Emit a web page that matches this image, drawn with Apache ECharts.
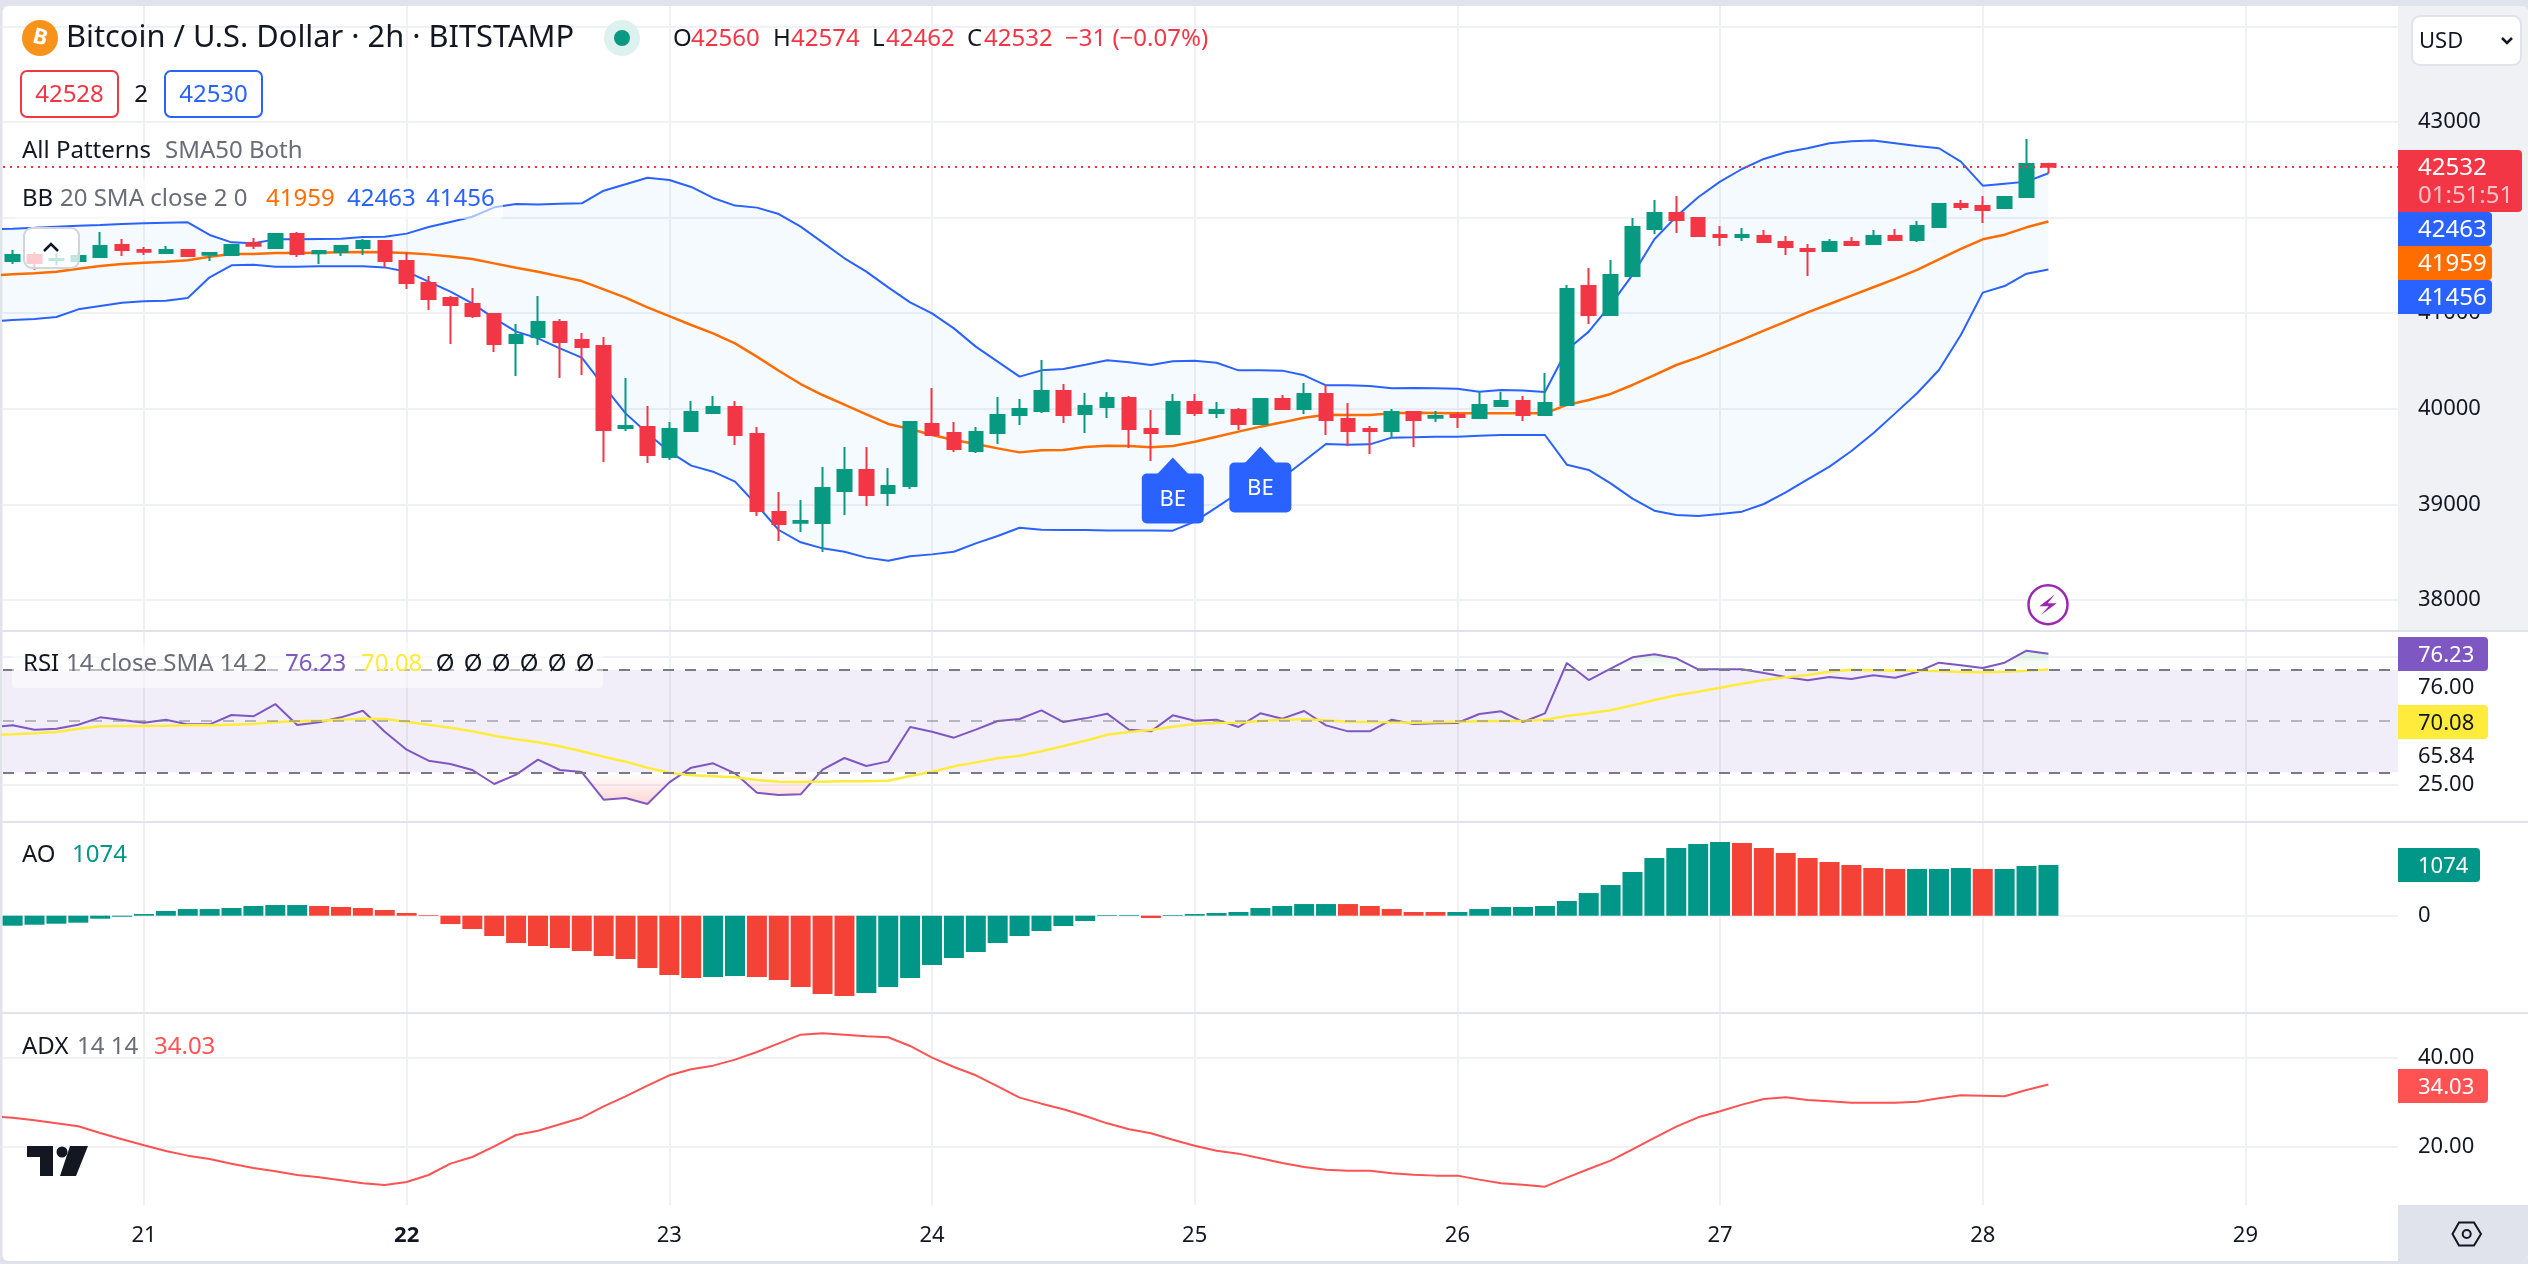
<!DOCTYPE html>
<html><head><meta charset="utf-8">
<style>html,body{margin:0;padding:0;background:#E0E3EB}#c{width:2528px;height:1264px}</style>
<script src="https://cdn.jsdelivr.net/npm/echarts@6/dist/echarts.min.js"></script>
</head><body><div id="c"></div>
<script>
// ---------- values ----------
const opens=[41546,41609,41556,41546,41588,41713,41661,41630,41661,41612,41609,41731,41682,41828,41626,41640,41682,41755,41546,41316,41159,41096,40991,40688,40751,40908,40719,40657,39799,39809,39495,39767,39956,40019,39736,38920,38809,38805,39140,39360,39119,39192,39841,39747,39558,39747,39935,39977,40186,39945,40019,40113,39789,39736,40071,39956,39987,39841,40102,39998,40155,39893,39789,39768,39966,39907,39935,39904,40029,40081,39935,40040,41285,40981,41389,41881,42048,41996,41818,41797,41808,41745,41672,41651,41745,41724,41808,41766,41902,42142,42121,42100,42216,42560];
const highs=[41661,41637,41626,41643,41849,41776,41692,41703,41671,41640,41713,41786,41828,41849,41661,41703,41776,41755,41637,41389,41180,41263,41002,40887,41180,40939,40793,40751,40322,40029,39862,40081,40134,40081,39809,39129,39046,39391,39600,39600,39381,39862,40217,39862,39809,40123,40102,40510,40259,40165,40176,40134,39987,40155,40155,40071,40008,40102,40144,40270,40249,40060,39820,39998,39977,39977,39966,40179,40179,40134,40374,41295,41473,41556,41996,42184,42226,42006,41912,41891,41870,41808,41724,41776,41797,41870,41881,41964,42153,42184,42226,42226,42822,42574];
const lows=[41514,41455,41504,41546,41577,41598,41609,41630,41598,41546,41609,41671,41671,41588,41514,41598,41609,41480,41253,41033,40678,40950,40594,40343,40667,40322,40353,39443,39767,39433,39464,39767,39956,39621,38878,38617,38711,38502,38889,38983,38983,39161,39726,39548,39537,39632,39830,39956,39851,39747,39904,39590,39454,39726,39925,39904,39778,39841,39998,39945,39726,39611,39527,39694,39600,39862,39799,39904,40029,39872,39935,40040,40887,40981,41379,41828,41839,41797,41703,41755,41734,41609,41389,41640,41703,41724,41766,41745,41902,42079,41944,42090,42216,42462];
const closes=[41609,41525,41567,41598,41703,41661,41643,41661,41598,41630,41713,41706,41828,41619,41650,41703,41755,41546,41316,41148,41086,40971,40678,40772,40908,40699,40646,39778,39820,39516,39788,39966,40019,39726,38931,38795,38826,39171,39360,39098,39192,39862,39726,39579,39757,39935,39998,40186,39935,40029,40113,39789,39747,40071,39956,39987,39841,40102,39998,40155,39883,39768,39768,39966,39883,39925,39914,40040,40081,39935,40060,41253,40981,41400,41902,42048,41975,41808,41797,41818,41745,41692,41651,41745,41713,41808,41766,41912,42142,42111,42079,42216,42561,42532];
// the indicator arrays below start one bar before the first candle (off the left edge)
const bbUpper=[41877,41884,41894,41905,41915,41922,41933,41940,41947,41950,41818,41741,41731,41772,41772,41776,41779,41797,41800,41832,41901,41954,42009,42107,42142,42138,42145,42149,42281,42348,42417,42393,42320,42205,42125,42104,42037,41905,41741,41574,41434,41270,41113,40998,40841,40650,40493,40336,40402,40416,40461,40507,40486,40458,40496,40503,40482,40402,40402,40399,40350,40245,40245,40238,40214,40217,40214,40210,40179,40197,40190,40176,40615,40807,41086,41400,41773,42010,42212,42376,42508,42613,42683,42725,42777,42798,42805,42777,42749,42725,42585,42334,42355,42376,42463];
const bbBasis=[41392,41406,41417,41434,41465,41493,41514,41528,41539,41553,41591,41619,41619,41629,41629,41633,41636,41640,41636,41629,41615,41594,41567,41521,41476,41434,41385,41336,41249,41162,41061,40970,40876,40789,40684,40545,40398,40259,40144,40043,39942,39841,39789,39726,39673,39632,39586,39544,39565,39569,39600,39614,39611,39597,39611,39656,39708,39761,39813,39858,39907,39938,39935,39935,39952,39959,39956,39952,39952,39952,39952,39952,40040,40092,40155,40249,40353,40458,40538,40629,40720,40817,40911,41009,41096,41183,41271,41358,41452,41563,41672,41773,41821,41898,41959];
const bbLower=[40911,40928,40939,40960,41040,41075,41110,41124,41131,41159,41375,41500,41507,41486,41486,41490,41490,41490,41479,41434,41330,41225,41103,40946,40807,40737,40632,40535,40240,39952,39743,39551,39405,39342,39238,38993,38732,38603,38540,38505,38443,38411,38457,38477,38505,38592,38669,38756,38735,38732,38732,38728,38728,38728,38725,38819,38969,39122,39199,39279,39454,39632,39625,39628,39698,39701,39708,39708,39719,39726,39726,39726,39415,39360,39220,39060,38934,38889,38878,38899,38924,39004,39126,39262,39395,39558,39743,39952,40162,40406,40772,41215,41284,41413,41456];
const rsi=[47.54,48.32,46.63,47.02,48.58,51.45,50.41,49.36,50.54,48.71,48.71,52.36,51.84,56.65,48.45,49.50,51.45,54.05,45.85,38.83,34.54,33.24,30.89,25.43,29.07,34.93,30.89,30.11,19.32,19.97,17.63,26.08,31.80,33.50,29.59,22.05,21.14,21.40,31.02,35.58,32.45,34.27,47.67,45.85,43.51,46.63,50.01,50.80,54.18,49.62,51.05,52.88,46.63,45.98,52.23,50.15,50.54,47.67,53.01,50.93,53.92,48.32,45.98,45.98,50.54,48.84,49.10,49.23,52.75,53.79,49.62,53.01,72.65,66.01,70.44,74.86,76.03,74.47,70.18,70.18,70.18,68.75,67.19,65.89,67.19,66.41,67.84,66.93,69.14,72.78,71.74,70.70,72.78,77.46,76.23];
const rsiSma=[44.55,44.81,45.20,45.72,47.02,47.93,48.06,48.06,48.19,48.32,48.32,48.58,48.84,49.62,49.89,50.15,50.54,50.93,50.80,49.76,48.58,47.41,45.98,44.29,42.86,41.69,40.13,38.18,36.10,34.15,31.80,29.85,28.81,28.42,28.03,26.99,26.34,26.21,26.34,26.47,26.47,26.73,28.55,30.24,32.32,33.88,35.45,36.49,38.18,40.26,42.34,44.68,45.72,46.50,47.80,48.84,49.23,49.36,50.01,50.54,50.67,50.28,49.76,49.62,49.50,49.36,49.50,49.76,49.89,50.01,50.01,50.54,51.97,53.01,54.18,56.13,58.21,60.03,61.46,63.02,64.58,66.01,67.06,67.97,69.27,70.05,69.79,69.66,69.66,69.53,69.14,69.01,69.27,69.66,70.08];
const adx=[26.89,26.59,26.00,25.32,24.65,23.15,21.73,20.38,19.10,18.06,17.31,16.26,15.29,14.54,13.71,13.19,12.51,11.84,11.47,12.14,13.71,16.26,17.76,20.15,22.70,23.67,25.10,26.59,29.14,31.39,33.79,36.11,37.46,38.28,39.63,41.35,43.30,45.25,45.55,45.25,44.87,44.65,42.70,40.08,37.98,36.11,33.64,31.09,29.74,28.47,26.97,25.32,23.98,23.08,21.65,20.30,19.18,18.51,17.46,16.41,15.51,14.91,14.69,14.69,14.09,13.79,13.57,13.57,12.67,11.84,11.54,11.09,13.12,15.06,16.93,19.48,22.03,24.58,26.67,28.02,29.52,30.79,31.17,30.57,30.27,29.97,29.97,29.97,30.19,30.94,31.62,31.54,31.39,32.81,34.03];
const aoValues=[-212,-191,-170,-148,-64,-21,35,99,141,141,163,205,226,226,205,184,163,120,57,14,-177,-283,-431,-579,-643,-685,-749,-855,-919,-1109,-1258,-1321,-1300,-1279,-1300,-1364,-1512,-1661,-1703,-1639,-1512,-1321,-1046,-897,-770,-579,-431,-325,-219,-113,14,14,-49,14,35,57,78,163,205,247,247,247,205,141,78,78,78,141,184,184,205,311,480,650,926,1222,1434,1519,1562,1540,1434,1328,1222,1138,1074,1010,989,989,989,1010,989,989,1053,1074];
const aoDirection='ggggggggggggggrrrrrrrrrrrrrrrrrrggrrrrrgggggggggggggrggggggggrrrrrgggggggggggggrrrrrrrrgggrggg'.split('');
const beMarkers=[[53,39726],[57,39841]];
const lastPrice=42532;
const priceTicks=[38000,39000,40000,41000,42000,43000];
const priceGrid=[38000,39000,40000,41000,42000,43000,44000];
const dayTicks=[0,12,24,36,48,60,72,84,96];
const dayLabels=['21','22','23','24','25','26','27','28','29'];
const rsiGrid=[25,75];
const rsiTickAt=[25,36.13,62.9];
const rsiTickText=['25.00','65.84','76.00'];
const rsiLevels=[70,50,30];
const adxTicks=[20,40];

// ---------- layout ----------
const FONT='"Noto Sans",sans-serif';
const INK='#131722', GREY='#6A6D78', RED='#F23645', GREEN='#089981', BLUE='#2962FF', ORANGE='#FF6D00';
const PURPLE='#7E57C2', YELLOW='#FFEB3B', ADXRED='#FF5252';
const GRIDC='#F0F1F4';
const xMin=-6.44, xMax=102.97;
const left=3, right=130;
const panes=[{top:6,bottom:630},{top:631,bottom:821.5},{top:822,bottom:1012.5},{top:1013,bottom:1205}];
const grids=panes.map(p=>({left,right,top:p.top,height:p.bottom-p.top,containLabel:false}));

const bar0=-6;            // first candle, in bars from the day-21 midnight gridline
const candleData=opens.map((o,i)=>[bar0+i,o,closes[i],lows[i],highs[i]]);
const lineOf=a=>a.map((v,k)=>[bar0-1+k,v]);
const aoData=aoValues.map((v,i)=>({value:[bar0+i,v],itemStyle:{color:aoDirection[i]==='g'?'#009688':'#F44336'}}));

const splitLine={show:true,lineStyle:{color:GRIDC,width:2}};
function xAxis(idx,withLabels){
  return {type:'value',gridIndex:idx,min:xMin,max:xMax,axisLine:{show:false},
    axisTick:{show:false,customValues:dayTicks},splitLine,
    axisLabel:withLabels?{show:true,customValues:dayTicks,margin:20,color:INK,fontFamily:FONT,fontSize:22,
      formatter:v=>{const t=dayLabels[dayTicks.indexOf(v)]||'';return t==='22'?'{b|'+t+'}':t;},
      rich:{b:{fontWeight:'bold',fontFamily:FONT,fontSize:22,color:INK}}}:{show:false}};
}
function yAxis(idx,min,max,gridVals,labelVals,fmt){
  return {type:'value',gridIndex:idx,position:'right',min,max,scale:true,axisLine:{show:false},
    axisTick:{show:false,customValues:gridVals},splitLine,
    axisLabel:{show:true,customValues:labelVals,margin:20,padding:[3,0,0,0],color:INK,fontFamily:FONT,fontSize:22,formatter:fmt}};
}
const line=(name,xi,data,color,width,z,extra)=>Object.assign({name,type:'line',xAxisIndex:xi,yAxisIndex:xi,data,
  showSymbol:false,symbol:'none',silent:true,z,animation:false,lineStyle:{color,width}},extra||{});

const option={
  animation:false,backgroundColor:'#E0E3EB',
  grid:grids,
  xAxis:[xAxis(0),xAxis(1),xAxis(2),xAxis(3,true)],
  yAxis:[
    yAxis(0,37686,44213,priceGrid,priceTicks,v=>String(v)),
    yAxis(1,10.8,85.14,rsiGrid,rsiTickAt,v=>rsiTickText[rsiTickAt.indexOf(v)]||''),
    yAxis(2,-2052,1986,[0],[0],v=>String(v)),
    yAxis(3,6.97,50.11,adxTicks,adxTicks,v=>v.toFixed(2))
  ],
  series:[
    {type:'custom',name:'BB fill',xAxisIndex:0,yAxisIndex:0,silent:true,clip:true,z:1,data:[[0]],
      renderItem:(p,api)=>{
        const pts=[];
        bbUpper.forEach((v,k)=>pts.push(api.coord([bar0-1+k,v])));
        for(let k=bbLower.length-1;k>=0;k--)pts.push(api.coord([bar0-1+k,bbLower[k]]));
        return {type:'polygon',shape:{points:pts},style:{fill:'rgba(33,150,243,0.05)'}};
      }},
    line('BB upper',0,lineOf(bbUpper),BLUE,2,2),
    line('BB lower',0,lineOf(bbLower),BLUE,2,2),
    line('BB basis',0,lineOf(bbBasis),ORANGE,2.5,2),
    {type:'candlestick',name:'BTCUSD',xAxisIndex:0,yAxisIndex:0,data:candleData,barWidth:14,silent:true,z:3,
      itemStyle:{color:GREEN,color0:RED,borderColor:GREEN,borderColor0:RED,borderWidth:2},
      markLine:{silent:true,symbol:['none','none'],label:{show:false},animation:false,
        lineStyle:{color:RED,type:[2,5],width:2},data:[{yAxis:lastPrice}]}},
    {type:'custom',name:'Bullish Engulfing',xAxisIndex:0,yAxisIndex:0,silent:true,z:4,clip:false,data:beMarkers.map(m=>[bar0+m[0],m[1]]),
      renderItem:(p,api)=>{
        const c=api.coord([api.value(0),api.value(1)]);
        const x=c[0], ay=c[1]+22.5, by=ay+16;
        return {type:'group',children:[
          {type:'polygon',shape:{points:[[x,ay],[x-16,by+1],[x+16,by+1]]},style:{fill:BLUE}},
          {type:'rect',shape:{x:x-31,y:by,width:62,height:50,r:5},style:{fill:BLUE}},
          {type:'text',style:{text:'BE',x,y:by+26,fill:'#fff',font:'22px '+FONT,textAlign:'center',textVerticalAlign:'middle'}}
        ]};
      }},
    line('RSI',1,lineOf(rsi),PURPLE,2,3,{
      markArea:{silent:true,animation:false,itemStyle:{color:'rgba(126,87,194,0.1)'},data:[[{yAxis:rsiLevels[0]},{yAxis:rsiLevels[2]}]]},
      markLine:{silent:true,symbol:['none','none'],animation:false,label:{show:false},
        lineStyle:{type:[11,11],width:2,color:'#787B86'},
        data:[{yAxis:rsiLevels[0]},{yAxis:rsiLevels[1],lineStyle:{color:'rgba(120,123,134,0.5)'}},{yAxis:rsiLevels[2]}]}}),
    line('RSI SMA',1,lineOf(rsiSma),YELLOW,2.5,4),
    line('Overbought',1,lineOf(rsi.map(v=>Math.max(v,70))),PURPLE,0,1,{lineStyle:{width:0,opacity:0},
      areaStyle:{origin:70,color:new echarts.graphic.LinearGradient(0,0,0,1,[{offset:0,color:'rgba(76,175,80,0.25)'},{offset:1,color:'rgba(76,175,80,0)'}])}}),
    line('Oversold',1,lineOf(rsi.map(v=>Math.min(v,30))),PURPLE,0,1,{lineStyle:{width:0,opacity:0},
      areaStyle:{origin:30,color:new echarts.graphic.LinearGradient(0,0,0,1,[{offset:0,color:'rgba(255,82,82,0)'},{offset:1,color:'rgba(255,82,82,0.35)'}])}}),
    {type:'bar',name:'AO',xAxisIndex:2,yAxisIndex:2,data:aoData,barWidth:20,silent:true,z:2},
    line('ADX',3,lineOf(adx),ADXRED,2,2)
  ],
  graphic:{elements:buildGraphics()}
};

function buildGraphics(){
  const g=[];
  const R=(x,y,w,h,fill,z,r,stroke,lw)=>g.push({type:'rect',silent:true,z,shape:{x,y,width:w,height:h,r:r||0},style:{fill,stroke:stroke||null,lineWidth:lw||0}});
  const T=(x,y,text,fill,size,opt)=>g.push({type:'text',silent:true,z:50,x,y:y+1.5,style:{text,fill,font:size+'px '+FONT,textAlign:(opt&&opt.align)||'left',textVerticalAlign:'middle'}});
  // card + panels
  R(2.5,6,2525.5,1255,'#FFFFFF',-10,[6,6,6,6]);
  R(2398,6,130,624,'#F0F1F5',-9,[0,6,0,0]);
  R(2398,1205,130,56,'#E0E3EB',-9,[0,0,6,0]);
  R(2.5,630,2525.5,2,'#E0E3EB',5);
  R(2.5,821,2525.5,2,'#E0E3EB',5);
  R(2.5,1012,2525.5,2,'#E0E3EB',5);
  // legend veils
  R(14,178,489,41,'rgba(255,255,255,0.6)',20,4);
  R(12,642,591,46,'rgba(255,255,255,0.5)',20,4);
  // header
  g.push({type:'circle',silent:true,z:50,shape:{cx:40,cy:38,r:18},style:{fill:'#F7931A'}});
  g.push({type:'text',silent:true,z:51,x:40,y:38,rotation:-0.24,style:{text:'B',fill:'#fff',font:'bold 22px '+FONT,textAlign:'center',textVerticalAlign:'middle'}});
  T(66,37,'Bitcoin / U.S. Dollar · 2h · BITSTAMP',INK,30.8);
  g.push({type:'circle',silent:true,z:50,shape:{cx:622,cy:38,r:18},style:{fill:'#DDF2EE'}});
  g.push({type:'circle',silent:true,z:51,shape:{cx:622,cy:38,r:8},style:{fill:GREEN}});
  [['O',673,'42560',691],['H',773,'42574',791],['L',872,'42462',886],['C',967,'42532',984]].forEach(a=>{
    T(a[1],38,a[0],INK,24);T(a[3],38,a[2],RED,24);
  });
  T(1065,38,'−31 (−0.07%)',RED,24);
  R(21,71,97,46,'#fff',40,6,RED,2);
  T(69.5,94,'42528',RED,24,{align:'center'});
  T(141,94,'2',INK,24,{align:'center'});
  R(165,71,97,46,'#fff',40,6,BLUE,2);
  T(213.5,94,'42530',BLUE,24,{align:'center'});
  T(22,150,'All Patterns',INK,24);
  T(165,150,'SMA50 Both',GREY,24);
  T(22,198,'BB',INK,24);
  T(60,198,'20 SMA close 2 0',GREY,24);
  T(266,198,'41959',ORANGE,24);
  T(347,198,'42463',BLUE,24);
  T(426,198,'41456',BLUE,24);
  // collapse button
  R(24,228,55,40,'rgba(255,255,255,0.75)',30,8,'#D1D4DC',2);
  g.push({type:'polyline',silent:true,z:31,shape:{points:[[44,251],[51,244],[58,251]]},style:{stroke:INK,lineWidth:2.5,fill:null}});
  // USD box
  R(2412,16,109,49,'#fff',40,8,'#E0E3EB',2);
  T(2419,40,'USD',INK,22);
  g.push({type:'polyline',silent:true,z:51,shape:{points:[[2502,38],[2507,43],[2512,38]]},style:{stroke:INK,lineWidth:2.5,fill:null}});
  // price tags
  R(2398,150,124,62,RED,40,[0,4,4,0]);
  T(2418,167,String(lastPrice),'#fff',24);
  T(2418,195,'01:51:51','rgba(255,255,255,0.7)',24);
  R(2398,212,94,34,BLUE,40,[0,4,4,0]); T(2418,229,'42463','#fff',24);
  R(2398,246,94,34,ORANGE,40,[0,4,4,0]); T(2418,263,'41959','#fff',24);
  R(2398,280,94,34,BLUE,40,[0,4,4,0]); T(2418,297,'41456','#fff',24);
  R(2398,637,90,34,PURPLE,40,[0,4,4,0]); T(2418,654,'76.23','#fff',22);
  R(2398,705,90,34,YELLOW,40,[0,4,4,0]); T(2418,722,'70.08',INK,22);
  R(2398,848,82,34,'#009688',40,[0,4,4,0]); T(2418,865,'1074','#fff',22);
  R(2398,1069,90,34,ADXRED,40,[0,4,4,0]); T(2418,1086,'34.03','#fff',22);
  // pane legends
  T(23,663,'RSI',INK,24);
  T(66,663,'14 close SMA 14 2',GREY,24);
  T(285,663,'76.23',PURPLE,24);
  T(361,663,'70.08',YELLOW,24);
  [445,473,501,529,557,585].forEach(x=>T(x,663,'Ø',INK,24,{align:'center'}));
  T(22,854,'AO',INK,24);
  T(72,854,'1074','#009688',24);
  T(22,1046,'ADX',INK,24);
  T(77,1046,'14 14',GREY,24);
  T(154,1046,'34.03',ADXRED,24);
  // logo
  g.push({type:'polygon',silent:true,z:50,shape:{points:[[27,1146],[53,1146],[53,1176],[40,1176],[40,1157],[27,1157]]},style:{fill:INK}});
  g.push({type:'circle',silent:true,z:50,shape:{cx:62,cy:1152,r:5.5},style:{fill:INK}});
  g.push({type:'polygon',silent:true,z:50,shape:{points:[[70,1146],[88,1146],[76,1176],[60,1176]]},style:{fill:INK}});
  // bolt
  g.push({type:'circle',silent:true,z:50,shape:{cx:2048,cy:604.7,r:19.5},style:{fill:'#fff',stroke:'#9C27B0',lineWidth:2.5}});
  g.push({type:'polygon',silent:true,z:51,shape:{points:[[2055,594.3],[2039.3,606.3],[2048.7,606.3],[2041,615],[2056.7,603.3],[2047.7,603.3]]},style:{fill:'#9C27B0'}});
  // settings hexagon
  g.push({type:'polygon',silent:true,z:50,shape:{points:[[2452.5,1234],[2459,1222.5],[2474,1222.5],[2481,1234],[2474,1245.5],[2459,1245.5]]},style:{fill:null,stroke:INK,lineWidth:2}});
  g.push({type:'circle',silent:true,z:50,shape:{cx:2466.7,cy:1234,r:4},style:{fill:null,stroke:INK,lineWidth:2}});
  return g;
}

const chart=echarts.init(document.getElementById('c'),null,{width:2528,height:1264,renderer:'canvas'});
chart.setOption(option);
</script></body></html>
